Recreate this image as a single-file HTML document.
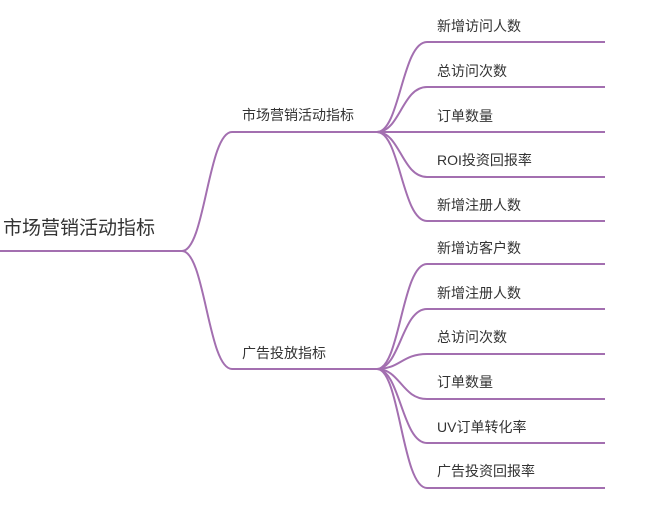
<!DOCTYPE html>
<html><head><meta charset="utf-8"><style>
body{margin:0;background:#fff;width:660px;height:513px;overflow:hidden}
svg text{font-family:"Liberation Sans","Noto Sans CJK SC",sans-serif;fill:#333}
</style></head><body>
<svg width="660" height="513" viewBox="0 0 660 513" xmlns="http://www.w3.org/2000/svg">
<g fill="none" stroke="#a36fb0" stroke-width="2">
<path d="M0 251 H182 C205 251 208 132 232 132 H377"/>
<path d="M182 251 C205 251 208 369 232 369 H377"/>
<path d="M377 132 C400 132 402 42 427 42 H605"/>
<path d="M377 132 C400 132 402 87 427 87 H605"/>
<path d="M377 132 H605"/>
<path d="M377 132 C400 132 402 177 427 177 H605"/>
<path d="M377 132 C400 132 402 221 427 221 H605"/>
<path d="M377 369 C400 369 402 264 427 264 H605"/>
<path d="M377 369 C400 369 402 309 427 309 H605"/>
<path d="M377 369 C400 369 402 354 427 354 H605"/>
<path d="M377 369 C400 369 402 399 427 399 H605"/>
<path d="M377 369 C400 369 402 443 427 443 H605"/>
<path d="M377 369 C400 369 402 488 427 488 H605"/>
</g>
<text x="3" y="234" font-size="19">市场营销活动指标</text>
<text x="242" y="120" font-size="14">市场营销活动指标</text>
<text x="242" y="358" font-size="14">广告投放指标</text>
<g font-size="14">
<text x="437" y="31">新增访问人数</text>
<text x="437" y="76">总访问次数</text>
<text x="437" y="121">订单数量</text>
<text x="437" y="165">ROI投资回报率</text>
<text x="437" y="210">新增注册人数</text>
<text x="437" y="253">新增访客户数</text>
<text x="437" y="298">新增注册人数</text>
<text x="437" y="342">总访问次数</text>
<text x="437" y="387">订单数量</text>
<text x="437" y="432">UV订单转化率</text>
<text x="437" y="476">广告投资回报率</text>
</g>
</svg>
</body></html>
